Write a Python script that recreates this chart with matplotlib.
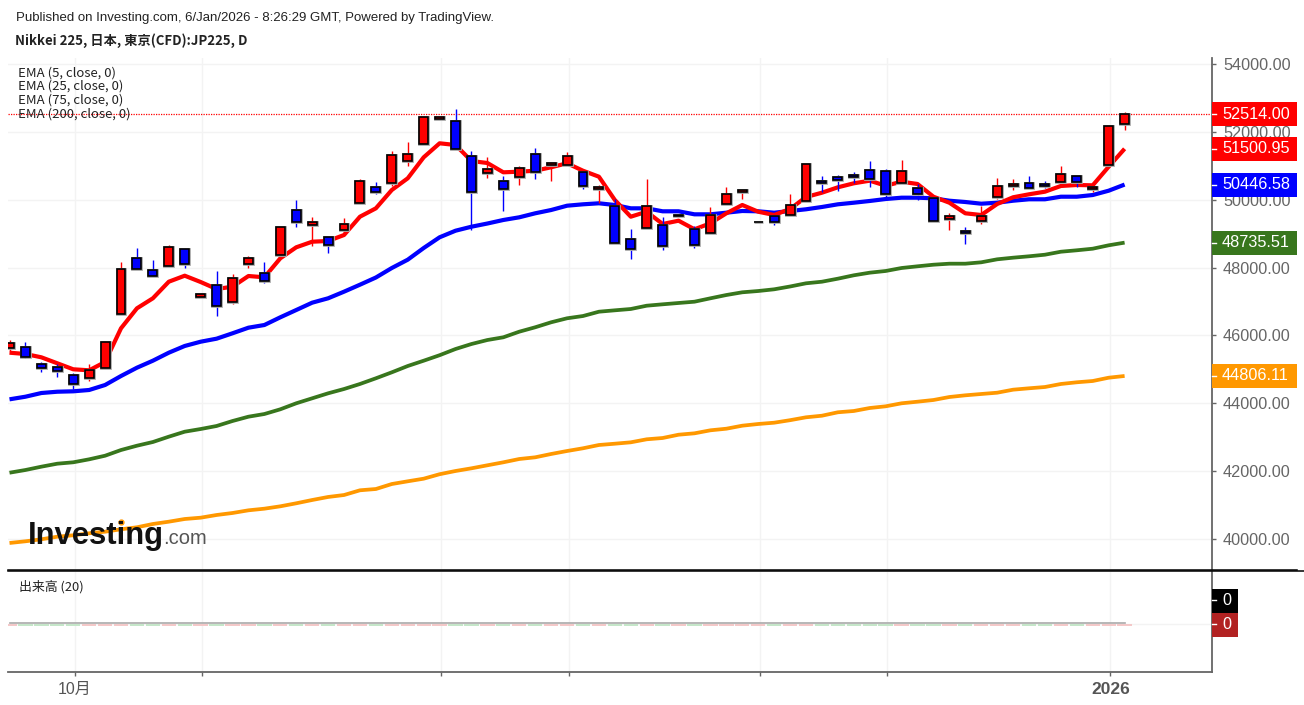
# -*- coding: utf-8 -*-
import matplotlib
matplotlib.use('Agg')
import matplotlib.pyplot as plt
from matplotlib.patches import Rectangle
from matplotlib.transforms import blended_transform_factory

W, H = 1304, 705

opens = [45622, 45669, 45150, 45062, 44835, 44737, 45050, 46641, 48274, 47920,
         48047, 48548, 47125, 47478, 46995, 48097, 47832, 48362, 49697, 49246,
         48902, 49117, 49912, 50366, 50484, 51141, 51633, 52379, 52311, 51289,
         50797, 50543, 50661, 51339, 51015, 51015, 50808, 50307, 49824, 48852,
         49158, 49255, 49512, 49129, 49028, 49865, 50228, 49335, 49521, 49559,
         49963, 50543, 50670, 50720, 50885, 50838, 50484, 50355, 50051, 49423,
         49087, 49382, 50089, 50396, 50493, 50455, 50531, 50708, 50307, 51015,
         52223]
highs = [45866, 45816, 45227, 45159, 44903, 45159, 45828, 48165, 48569, 48215,
         48657, 48569, 47242, 47891, 47802, 48342, 48165, 49205, 49992, 49482,
         48902, 49453, 50602, 50514, 51436, 51701, 52438, 52447, 52665, 51436,
         51250, 50699, 50994, 51516, 51121, 51398, 50808, 50434, 50013, 49137,
         50602, 49482, 49559, 49226, 49795, 50375, 50278, 49353, 49559, 50160,
         51062, 50699, 50720, 50817, 51133, 50897, 51171, 50464, 50051, 49618,
         49188, 49815, 50640, 50602, 50690, 50552, 50994, 50708, 50366, 52193,
         52577]
lows = [45551, 45340, 44932, 44767, 44413, 44667, 45050, 46641, 47959, 47752,
        48047, 47997, 47125, 46573, 46936, 47997, 47555, 48303, 49188, 48645,
        48439, 49011, 49912, 50160, 50413, 51003, 51633, 52379, 51504, 49108,
        50640, 49677, 50434, 50602, 50552, 51015, 50307, 49895, 48716, 48262,
        49158, 48519, 49512, 48569, 49028, 49865, 50021, 49335, 49264, 49559,
        49963, 50237, 50257, 50484, 50384, 50042, 50484, 49992, 49382, 49108,
        48695, 49276, 50021, 50296, 50355, 50337, 50531, 50384, 50237, 51015,
        52055]
closes = [45769, 45356, 45050, 44961, 44561, 44973, 45807, 47967, 47959, 47752,
          48598, 48097, 47222, 46859, 47702, 48283, 47614, 49205, 49335, 49344,
          48675, 49294, 50543, 50219, 51327, 51339, 52429, 52447, 51504, 50219,
          50897, 50307, 50926, 50826, 51074, 51280, 50405, 50366, 48716, 48548,
          49824, 48637, 49559, 48675, 49559, 50178, 50278, 49353, 49344, 49854,
          51062, 50484, 50573, 50661, 50620, 50169, 50847, 50178, 49382, 49521,
          49028, 49521, 50396, 50455, 50355, 50396, 50758, 50531, 50366, 52173,
          52514]

ema5 = [45492, 45454, 45356, 45180, 45003, 44973, 45218, 46211, 46800, 47095,
        47584, 47761, 47575, 47369, 47437, 47752, 47714, 48274, 48598, 48763,
        48784, 48960, 49500, 49747, 50287, 50632, 51250, 51663, 51613, 51141,
        51082, 50808, 50826, 50855, 50956, 51074, 50855, 50679, 49992, 49500,
        49647, 49285, 49382, 49129, 49305, 49600, 49845, 49647, 49550, 49727,
        50080, 50207, 50366, 50484, 50561, 50413, 50531, 50464, 50089, 49912,
        49600, 49550, 49874, 50072, 50160, 50237, 50405, 50434, 50425, 50973,
        51500.95]
ema25 = [44118, 44195, 44304, 44342, 44354, 44393, 44540, 44805, 45050, 45256,
         45492, 45690, 45816, 45905, 46064, 46229, 46308, 46535, 46750, 46966,
         47095, 47290, 47496, 47708, 47988, 48233, 48577, 48893, 49087, 49205,
         49299, 49403, 49482, 49600, 49697, 49824, 49865, 49895, 49845, 49747,
         49747, 49659, 49659, 49570, 49570, 49618, 49668, 49659, 49618, 49668,
         49718, 49786, 49865, 49912, 49963, 50021, 50060, 50060, 50042, 49971,
         49933, 49883, 49912, 49971, 50013, 50013, 50089, 50089, 50139, 50266,
         50446.58]
ema75 = [41955, 42035, 42133, 42221, 42262, 42350, 42456, 42624, 42751, 42860,
         43017, 43164, 43243, 43332, 43479, 43606, 43685, 43824, 44001, 44148,
         44295, 44422, 44570, 44738, 44914, 45100, 45256, 45418, 45601, 45748,
         45866, 45946, 46111, 46241, 46388, 46506, 46573, 46700, 46741, 46780,
         46877, 46918, 46957, 46995, 47095, 47192, 47272, 47310, 47360, 47443,
         47537, 47584, 47673, 47773, 47850, 47900, 47988, 48038, 48085, 48115,
         48115, 48156, 48244, 48292, 48333, 48380, 48468, 48510, 48557, 48657,
         48735.51]
ema200 = [39884, 39934, 39993, 40070, 40111, 40170, 40217, 40288, 40347, 40444,
          40512, 40591, 40630, 40709, 40768, 40847, 40895, 40965, 41054, 41151,
          41240, 41298, 41437, 41475, 41622, 41702, 41779, 41911, 42006, 42085,
          42174, 42262, 42359, 42409, 42507, 42595, 42675, 42772, 42810, 42851,
          42940, 42978, 43075, 43116, 43205, 43252, 43341, 43391, 43429, 43503,
          43588, 43635, 43736, 43774, 43862, 43912, 44001, 44048, 44098, 44186,
          44236, 44275, 44313, 44402, 44443, 44481, 44570, 44620, 44658, 44755,
          44806.11]
volumes = [0] * 71

y_ticks = [40000, 42000, 44000, 46000, 48000, 50000, 52000, 54000]
x_ticks = [4.1, 12.1, 27.1, 35.1, 47.1, 55.1, 69.1]
x_labels = ['10月', '', '', '', '', '', '2026']

ema_names = ['EMA (5, close, 0)', 'EMA (25, close, 0)', 'EMA (75, close, 0)',
             'EMA (200, close, 0)']
tags = [(52514.00, '52514.00', '#ff0000'), (51500.95, '51500.95', '#ff0000'),
        (50446.58, '50446.58', '#0000ff'), (48735.51, '48735.51', '#38761d'),
        (44806.11, '44806.11', '#ff9800')]

JP = ['Noto Sans CJK JP', 'DejaVu Sans']
SANS = ['Liberation Sans', 'Noto Sans CJK JP']
GRID = '#f3f3f3'
AXC = '#666666'


def to_x(px):
    return (px - 9.5) / 15.93


fig = plt.figure(figsize=(W / 100, H / 100), dpi=100)
ax = fig.add_axes([8 / W, (H - 569) / H, 1204 / W, 511 / H])
vax = fig.add_axes([8 / W, (H - 672) / H, 1204 / W, 100 / H])
over = fig.add_axes([0, 0, 1, 1], zorder=10)
over.set_xlim(0, W)
over.set_ylim(H, 0)
over.axis('off')
over.patch.set_alpha(0)

xlim = (to_x(8), to_x(1212))
xs = list(range(len(closes)))

# price pane
ax.set_xlim(xlim)
ax.set_ylim(55886 - 29.47 * 569, 55886 - 29.47 * 58)
ax.yaxis.tick_right()
ax.set_yticks(y_ticks, ['%.2f' % v for v in y_ticks], family=SANS,
              fontsize=11.7, color=AXC)
ax.tick_params(axis='y', length=3, width=1, color=AXC, pad=5)
ax.set_xticks(x_ticks)
ax.tick_params(axis='x', length=0, labelbottom=False)
ax.grid(True, color=GRID, lw=1)
ax.set_axisbelow(True)
for s in ['top', 'left', 'bottom']:
    ax.spines[s].set_visible(False)
ax.spines['right'].set_color(AXC)
ax.spines['right'].set_linewidth(1.3)

ax.axhline(closes[-1], color='#ff0000', lw=0.9, ls=(0, (1, 1)), zorder=2)

ax.plot(xs, ema200, color='#ff9800', lw=2.7, zorder=3, solid_capstyle='butt')
ax.plot(xs, ema75, color='#38761d', lw=2.7, zorder=3, solid_capstyle='butt')
ax.plot(xs, ema25, color='#0000ff', lw=3.0, zorder=3.1, solid_capstyle='butt')
ax.plot(xs, ema5, color='#ff0000', lw=3.0, zorder=3.2, solid_capstyle='butt')

for i in xs:
    col = '#ff0000' if closes[i] >= opens[i] else '#0000ff'
    ax.vlines(i, lows[i], highs[i], color=col, lw=1.0, zorder=4)
    low = min(opens[i], closes[i])
    hei = abs(closes[i] - opens[i])
    ax.add_patch(Rectangle((i - 0.28, low), 0.56, hei, fc='none',
                           ec='#aaaaaa', lw=2.0, zorder=4.1))
    ax.add_patch(Rectangle((i - 0.28, low), 0.56, hei, fc=col,
                           ec='black', lw=1.2, zorder=4.2))

# last value tags
tr = blended_transform_factory(ax.transAxes, ax.transData)
for val, txt, col in tags:
    ax.add_patch(Rectangle((1.0, val - 354), 85 / 1204, 708, transform=tr, fc=col,
                           ec='none', clip_on=False, zorder=6))
    ax.plot([1.0, 1.0 + 4 / 1204], [val, val], transform=tr, color='white',
            lw=1, clip_on=False, zorder=7)
    ax.text(1.0 + 10 / 1204, val, txt, transform=tr, color='white', family=SANS,
            fontsize=11.7, va='center', ha='left', clip_on=False, zorder=7)

# volume pane
vax.set_xlim(xlim)
vax.set_ylim(-48, 52)
vax.set_xticks(x_ticks, x_labels, family=SANS, fontsize=11.5, color='#555555')
vax.get_xticklabels()[-1].set_fontweight('bold')
vax.get_xticklabels()[-1].set_fontsize(12.5)
vax.tick_params(axis='x', length=3, width=1, color=AXC, pad=4)
vax.set_yticks([0], [''])
vax.tick_params(axis='y', length=0)
vax.grid(True, color=GRID, lw=1)
vax.set_axisbelow(True)
for s in ['top', 'left']:
    vax.spines[s].set_visible(False)
for s in ['right', 'bottom']:
    vax.spines[s].set_color(AXC)
    vax.spines[s].set_linewidth(1.3)
for i in xs:
    col = '#f4c7c7' if closes[i] >= opens[i] else '#c4e6c8'
    vax.bar(i, volumes[i], width=0.9, bottom=-0.6, edgecolor=col, color=col,
            lw=1.4, zorder=3)
vax.plot(xs, [v + 0.6 for v in volumes], color='#aaaaaa', lw=1.2, zorder=4)

# separator and texts
over.plot([8, 1297], [569.5, 569.5], color='black', lw=1.1)
over.plot([8, 1304], [571.3, 571.3], color='black', lw=1.1)

over.text(16, 17.5, 'Published on Investing.com, 6/Jan/2026 - 8:26:29 GMT, Powered by TradingView.',
          family=SANS, fontsize=9.55, color='#222222', va='center')
over.text(15, 40.5, 'Nikkei 225, 日本, 東京(CFD):JP225, D', family=JP, fontsize=9.5,
          fontweight='bold', color='#222222', va='center')
for name, py in zip(ema_names, [73, 86.5, 100, 114]):
    over.text(18, py, name, family=JP, fontsize=9.5, color='#222222', va='center')
over.text(19, 587, '出来高 (20)', family=JP, fontsize=9.3, color='#222222', va='center')

over.text(28, 536, 'Investing', family=SANS, fontsize=22.3, fontweight='bold',
          color='#111111', va='center')
over.text(163, 538, '.com', family=SANS, fontsize=14.5, color='#555555', va='center')
over.plot([120.7], [521.7], 'o', ms=3.5, color='#ff9800')

over.add_patch(Rectangle((1212, 588.5), 26, 24, fc='black', ec='none'))
over.add_patch(Rectangle((1212, 612.5), 26, 24, fc='#b22222', ec='none'))
over.plot([1212, 1216], [600, 600], color='white', lw=1)
over.plot([1212, 1216], [624, 624], color='white', lw=1)
over.text(1222, 600.5, '0', family=SANS, fontsize=11.7, color='white', va='center')
over.text(1222, 624.5, '0', family=SANS, fontsize=11.7, color='white', va='center')

fig.savefig('out.png', dpi=100)
